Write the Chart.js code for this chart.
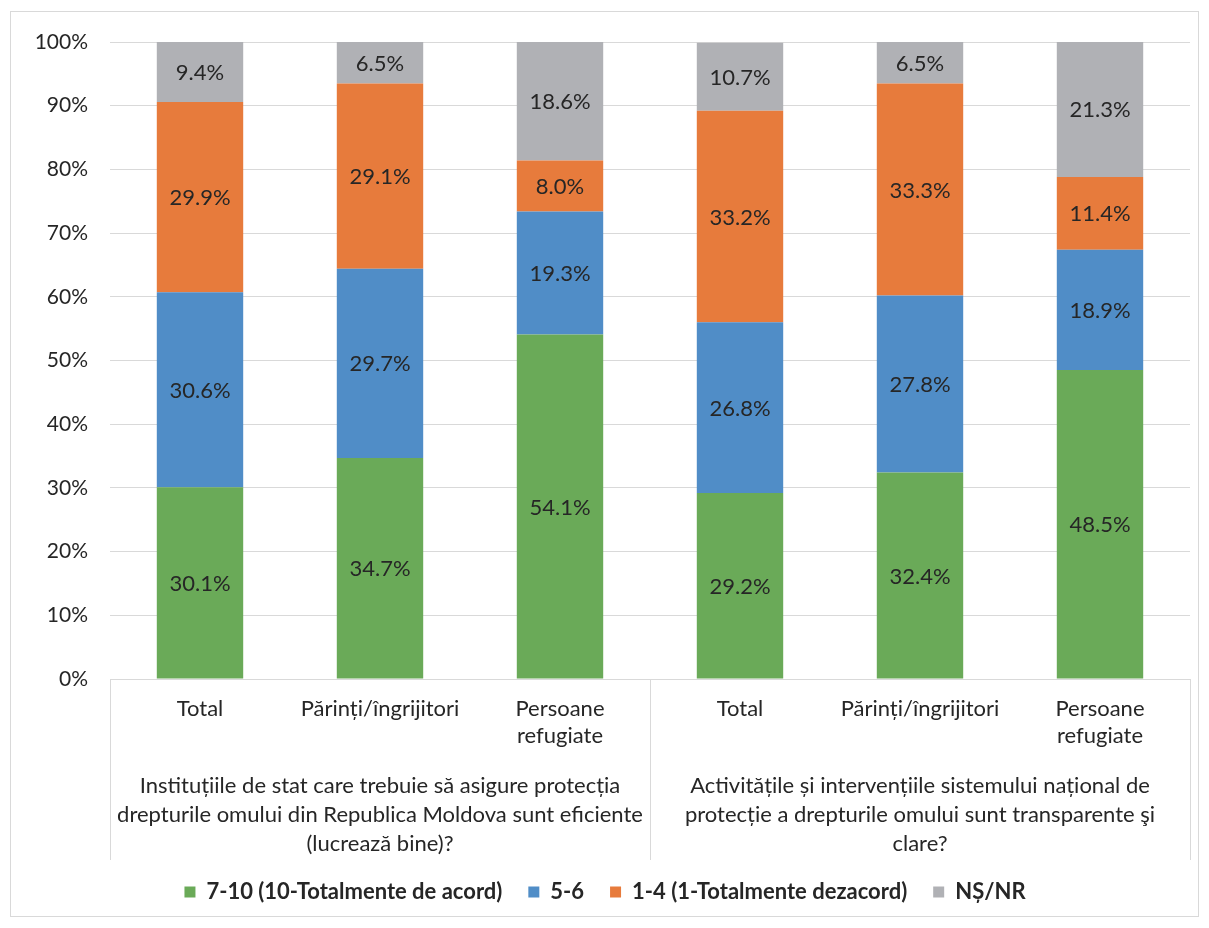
<!DOCTYPE html>
<html>
<head>
<meta charset="utf-8">
<script src="https://cdn.jsdelivr.net/npm/chart.js@4.4.0/dist/chart.umd.min.js"></script>
<style>
  body { margin: 0; background: #fff; }
  #wrap { width: 1209px; height: 928px; }
</style>
</head>
<body>
<div id="wrap"><canvas id="grafic"></canvas></div>
<script>
const categorii = ["Total", "Părinți/îngrijitori", ["Persoane", "refugiate"], "Total", "Părinți/îngrijitori", ["Persoane", "refugiate"]];
const grupuri = [
  ["Instituțiile de stat care trebuie să asigure protecția", "drepturile omului din Republica Moldova sunt eficiente", "(lucrează bine)?"],
  ["Activitățile și intervențiile sistemului național de", "protecție a drepturile omului sunt transparente şi", "clare?"]
];
const serii = ["7-10 (10-Totalmente de acord)", "5-6", "1-4 (1-Totalmente dezacord)", "NȘ/NR"];
const acord = [30.1, 34.7, 54.1, 29.2, 32.4, 48.5];
const mediu = [30.6, 29.7, 19.3, 26.8, 27.8, 18.9];
const dezacord = [29.9, 29.1, 8.0, 33.2, 33.3, 11.4];
const nsnr = [9.4, 6.5, 18.6, 10.7, 6.5, 21.3];
const culori = ["#6aaa58", "#508dc7", "#e77b3c", "#b0b1b5"];

const font = "Lato, 'Open Sans', sans-serif";
const textColor = "#262626";

// chenarul exterior
const chenar = {
  id: "chenar",
  beforeDraw(chart) {
    const ctx = chart.ctx;
    ctx.save();
    ctx.strokeStyle = "#d9d9d9";
    ctx.lineWidth = 1;
    ctx.strokeRect(10.5, 11.5, 1188, 905);
    ctx.restore();
  }
};

// etichete pe bare
const etichete = {
  id: "etichete",
  afterDatasetsDraw(chart) {
    const ctx = chart.ctx;
    ctx.save();
    ctx.font = "22px " + font;
    ctx.fillStyle = textColor;
    ctx.textAlign = "center";
    ctx.textBaseline = "middle";
    chart.data.datasets.forEach((ds, i) => {
      chart.getDatasetMeta(i).data.forEach((bar, j) => {
        ctx.fillText(ds.data[j].toFixed(1) + "%", bar.x, (bar.y + bar.base) / 2 + 1);
      });
    });
    ctx.restore();
  }
};

// axa cu doua niveluri
const grupe = {
  id: "grupe",
  afterDraw(chart) {
    const ctx = chart.ctx;
    const x = chart.scales.x;
    const area = chart.chartArea;
    const jos = area.bottom + 181;
    const mijloc = (x.getPixelForValue(2) + x.getPixelForValue(3)) / 2;
    ctx.save();
    ctx.strokeStyle = "#d9d9d9";
    ctx.lineWidth = 1;
    [area.left, mijloc, area.right].forEach(px => {
      ctx.beginPath();
      ctx.moveTo(Math.round(px) + 0.5, area.bottom);
      ctx.lineTo(Math.round(px) + 0.5, jos);
      ctx.stroke();
    });
    ctx.font = "22px " + font;
    ctx.fillStyle = textColor;
    ctx.textAlign = "center";
    ctx.textBaseline = "middle";
    grupuri.forEach((linii, g) => {
      const cx = (x.getPixelForValue(g * 3) + x.getPixelForValue(g * 3 + 2)) / 2;
      linii.forEach((l, k) => {
        ctx.fillText(l, cx, area.bottom + 107 + k * 29);
      });
    });
    ctx.restore();
  }
};

new Chart(document.getElementById("grafic"), {
  type: "bar",
  data: {
    labels: categorii,
    datasets: [
      { label: serii[0], data: acord, backgroundColor: culori[0] },
      { label: serii[1], data: mediu, backgroundColor: culori[1] },
      { label: serii[2], data: dezacord, backgroundColor: culori[2] },
      { label: serii[3], data: nsnr, backgroundColor: culori[3] }
    ]
  },
  options: {
    responsive: true,
    maintainAspectRatio: false,
    animation: false,
    layout: { padding: { left: 20, right: 19, top: 42, bottom: 15 } },
    datasets: { bar: { categoryPercentage: 1, barPercentage: 0.48 } },
    plugins: {
      tooltip: { enabled: false },
      legend: {
        position: "bottom",
        labels: {
          font: { family: font, size: 22, weight: "bold" },
          color: textColor,
          boxWidth: 11,
          boxHeight: 11,
          padding: 26
        }
      }
    },
    scales: {
      x: {
        stacked: true,
        grid: { display: false, drawTicks: false },
        border: { color: "#d9d9d9" },
        ticks: { font: { family: font, size: 22 }, color: textColor, padding: 17, maxRotation: 0 },
        afterFit(scale) { scale.height = 176; }
      },
      y: {
        stacked: true,
        min: 0,
        max: 100,
        grid: { color: "#d9d9d9", drawTicks: false },
        border: { display: false },
        ticks: {
          stepSize: 10,
          font: { family: font, size: 21 },
          color: textColor,
          padding: 22,
          callback: v => v + "%"
        },
        afterFit(scale) { scale.width = 90; }
      }
    }
  },
  plugins: [chenar, etichete, grupe]
});
</script>
</body>
</html>
